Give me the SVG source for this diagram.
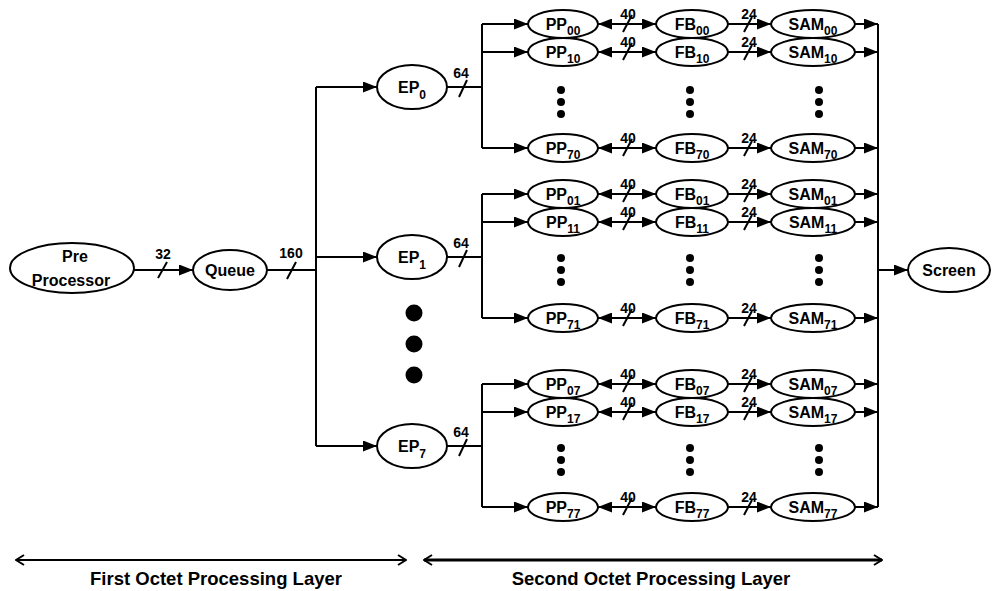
<svg xmlns="http://www.w3.org/2000/svg" width="995" height="591" viewBox="0 0 995 591">
<style>
.n{fill:#fff;stroke:#000;stroke-width:2}
.t{font-family:"Liberation Sans",Arial,sans-serif;font-weight:bold;font-size:16px;text-anchor:middle;fill:#000}
.s{font-size:12px}
.l{font-family:"Liberation Sans",Arial,sans-serif;font-weight:bold;font-size:14px;text-anchor:middle;fill:#000}
.c{fill:none;stroke:#000;stroke-width:2}
.a{marker-end:url(#ah)}
.b{marker-start:url(#ah);marker-end:url(#ah)}
.sl{stroke:#000;stroke-width:2}
.d{fill:#000}
.lay{font-family:"Liberation Sans",Arial,sans-serif;font-weight:bold;font-size:18.5px;text-anchor:middle;fill:#000}
</style>
<defs>
<marker id="ah" markerUnits="userSpaceOnUse" markerWidth="14" markerHeight="11" refX="14" refY="5.5" orient="auto-start-reverse"><path d="M0,0 L14,5.5 L0,11 z" fill="#000"/></marker>
<marker id="oh" markerUnits="userSpaceOnUse" markerWidth="10" markerHeight="12" refX="9" refY="6" orient="auto-start-reverse"><path d="M1,1 L9,6 L1,11" fill="none" stroke="#000" stroke-width="2"/></marker>
</defs>

<g id="connectors">
<path class="c a" d="M134,270 H193"/>
<line class="sl" x1="158" y1="278" x2="167" y2="262"/>
<text class="l" x="163" y="259">32</text>
<path class="c" d="M267,270 H316"/>
<line class="sl" x1="287" y1="279" x2="296" y2="262"/>
<text class="l" x="291" y="258">160</text>
<path class="c" d="M316,87 V446"/>
<path class="c a" d="M316,87 H377"/>
<path class="c a" d="M316,257 H377"/>
<path class="c a" d="M316,446 H377"/>

<path class="c" d="M447,87 H482 M482,24 V148"/>
<line class="sl" x1="459" y1="97" x2="467" y2="80"/>
<text class="l" x="461" y="78">64</text>
<path class="c" d="M447,257 H482 M482,194 V318"/>
<line class="sl" x1="459" y1="267" x2="467" y2="250"/>
<text class="l" x="461" y="248">64</text>
<path class="c" d="M447,446 H482 M482,384 V507"/>
<line class="sl" x1="459" y1="456" x2="467" y2="439"/>
<text class="l" x="461" y="437">64</text>

<g id="row-arrows">
<path class="c a" d="M482,24 H528"/><path class="c b" d="M598,24 H656"/><path class="c a" d="M728,24 H771"/><path class="c a" d="M855,24 H878"/>
<path class="c a" d="M482,52 H528"/><path class="c b" d="M598,52 H656"/><path class="c a" d="M728,52 H771"/><path class="c a" d="M855,52 H878"/>
<path class="c a" d="M482,148 H528"/><path class="c b" d="M598,148 H656"/><path class="c a" d="M728,148 H771"/><path class="c a" d="M855,148 H878"/>
<path class="c a" d="M482,194 H528"/><path class="c b" d="M598,194 H656"/><path class="c a" d="M728,194 H771"/><path class="c a" d="M855,194 H878"/>
<path class="c a" d="M482,222 H528"/><path class="c b" d="M598,222 H656"/><path class="c a" d="M728,222 H771"/><path class="c a" d="M855,222 H878"/>
<path class="c a" d="M482,318 H528"/><path class="c b" d="M598,318 H656"/><path class="c a" d="M728,318 H771"/><path class="c a" d="M855,318 H878"/>
<path class="c a" d="M482,384 H528"/><path class="c b" d="M598,384 H656"/><path class="c a" d="M728,384 H771"/><path class="c a" d="M855,384 H878"/>
<path class="c a" d="M482,412 H528"/><path class="c b" d="M598,412 H656"/><path class="c a" d="M728,412 H771"/><path class="c a" d="M855,412 H878"/>
<path class="c a" d="M482,507 H528"/><path class="c b" d="M598,507 H656"/><path class="c a" d="M728,507 H771"/><path class="c a" d="M855,507 H878"/>
</g>
<g id="width-labels">
<line class="sl" x1="623" y1="32" x2="632" y2="15"/><text class="l" x="628" y="19">40</text>
<line class="sl" x1="744" y1="32" x2="752" y2="17"/><text class="l" x="749" y="19">24</text>
<line class="sl" x1="623" y1="60" x2="632" y2="43"/><text class="l" x="628" y="47">40</text>
<line class="sl" x1="744" y1="60" x2="752" y2="45"/><text class="l" x="749" y="47">24</text>
<line class="sl" x1="623" y1="156" x2="632" y2="139"/><text class="l" x="628" y="143">40</text>
<line class="sl" x1="744" y1="156" x2="752" y2="141"/><text class="l" x="749" y="143">24</text>
<line class="sl" x1="623" y1="202" x2="632" y2="185"/><text class="l" x="628" y="189">40</text>
<line class="sl" x1="744" y1="202" x2="752" y2="187"/><text class="l" x="749" y="189">24</text>
<line class="sl" x1="623" y1="230" x2="632" y2="213"/><text class="l" x="628" y="217">40</text>
<line class="sl" x1="744" y1="230" x2="752" y2="215"/><text class="l" x="749" y="217">24</text>
<line class="sl" x1="623" y1="326" x2="632" y2="309"/><text class="l" x="628" y="313">40</text>
<line class="sl" x1="744" y1="326" x2="752" y2="311"/><text class="l" x="749" y="313">24</text>
<line class="sl" x1="623" y1="392" x2="632" y2="375"/><text class="l" x="628" y="379">40</text>
<line class="sl" x1="744" y1="392" x2="752" y2="377"/><text class="l" x="749" y="379">24</text>
<line class="sl" x1="623" y1="420" x2="632" y2="403"/><text class="l" x="628" y="407">40</text>
<line class="sl" x1="744" y1="420" x2="752" y2="405"/><text class="l" x="749" y="407">24</text>
<line class="sl" x1="623" y1="515" x2="632" y2="498"/><text class="l" x="628" y="502">40</text>
<line class="sl" x1="744" y1="515" x2="752" y2="500"/><text class="l" x="749" y="502">24</text>
</g>
<path class="c" d="M878,24 V507"/>
<path class="c a" d="M878,270 H908"/>
</g>

<g id="preprocessor"><ellipse class="n" cx="72" cy="268" rx="62" ry="25"/><text class="t" x="75" y="262">Pre</text><text class="t" x="71" y="286">Processor</text></g>
<g id="queue"><ellipse class="n" cx="230" cy="270" rx="37" ry="20"/><text class="t" x="230" y="276">Queue</text></g>
<g id="ep0"><ellipse class="n" cx="412" cy="87" rx="35" ry="22"/><text class="t" x="412" y="93">EP<tspan class="s" dy="6">0</tspan></text></g>
<g id="ep1"><ellipse class="n" cx="412" cy="257" rx="35" ry="22"/><text class="t" x="412" y="263">EP<tspan class="s" dy="6">1</tspan></text></g>
<g id="ep7"><ellipse class="n" cx="412" cy="446" rx="35" ry="22"/><text class="t" x="412" y="452">EP<tspan class="s" dy="6">7</tspan></text></g>
<g id="screen"><ellipse class="n" cx="949" cy="270" rx="41" ry="22"/><text class="t" x="949" y="276">Screen</text></g>

<g id="pp00"><ellipse class="n" cx="563" cy="24" rx="35" ry="14"/><text class="t" x="563" y="30">PP<tspan class="s" dy="5">00</tspan></text></g>
<g id="fb00"><ellipse class="n" cx="692" cy="24" rx="36" ry="14"/><text class="t" x="692" y="30">FB<tspan class="s" dy="5">00</tspan></text></g>
<g id="sam00"><ellipse class="n" cx="813" cy="24" rx="42" ry="14"/><text class="t" x="813" y="30">SAM<tspan class="s" dy="5">00</tspan></text></g>
<g id="pp10"><ellipse class="n" cx="563" cy="52" rx="35" ry="14"/><text class="t" x="563" y="58">PP<tspan class="s" dy="5">10</tspan></text></g>
<g id="fb10"><ellipse class="n" cx="692" cy="52" rx="36" ry="14"/><text class="t" x="692" y="58">FB<tspan class="s" dy="5">10</tspan></text></g>
<g id="sam10"><ellipse class="n" cx="813" cy="52" rx="42" ry="14"/><text class="t" x="813" y="58">SAM<tspan class="s" dy="5">10</tspan></text></g>
<g id="pp70"><ellipse class="n" cx="563" cy="148" rx="35" ry="14"/><text class="t" x="563" y="154">PP<tspan class="s" dy="5">70</tspan></text></g>
<g id="fb70"><ellipse class="n" cx="692" cy="148" rx="36" ry="14"/><text class="t" x="692" y="154">FB<tspan class="s" dy="5">70</tspan></text></g>
<g id="sam70"><ellipse class="n" cx="813" cy="148" rx="42" ry="14"/><text class="t" x="813" y="154">SAM<tspan class="s" dy="5">70</tspan></text></g>

<g id="pp01"><ellipse class="n" cx="563" cy="194" rx="35" ry="14"/><text class="t" x="563" y="200">PP<tspan class="s" dy="5">01</tspan></text></g>
<g id="fb01"><ellipse class="n" cx="692" cy="194" rx="36" ry="14"/><text class="t" x="692" y="200">FB<tspan class="s" dy="5">01</tspan></text></g>
<g id="sam01"><ellipse class="n" cx="813" cy="194" rx="42" ry="14"/><text class="t" x="813" y="200">SAM<tspan class="s" dy="5">01</tspan></text></g>
<g id="pp11"><ellipse class="n" cx="563" cy="222" rx="35" ry="14"/><text class="t" x="563" y="228">PP<tspan class="s" dy="5">11</tspan></text></g>
<g id="fb11"><ellipse class="n" cx="692" cy="222" rx="36" ry="14"/><text class="t" x="692" y="228">FB<tspan class="s" dy="5">11</tspan></text></g>
<g id="sam11"><ellipse class="n" cx="813" cy="222" rx="42" ry="14"/><text class="t" x="813" y="228">SAM<tspan class="s" dy="5">11</tspan></text></g>
<g id="pp71"><ellipse class="n" cx="563" cy="318" rx="35" ry="14"/><text class="t" x="563" y="324">PP<tspan class="s" dy="5">71</tspan></text></g>
<g id="fb71"><ellipse class="n" cx="692" cy="318" rx="36" ry="14"/><text class="t" x="692" y="324">FB<tspan class="s" dy="5">71</tspan></text></g>
<g id="sam71"><ellipse class="n" cx="813" cy="318" rx="42" ry="14"/><text class="t" x="813" y="324">SAM<tspan class="s" dy="5">71</tspan></text></g>

<g id="pp07"><ellipse class="n" cx="563" cy="384" rx="35" ry="14"/><text class="t" x="563" y="390">PP<tspan class="s" dy="5">07</tspan></text></g>
<g id="fb07"><ellipse class="n" cx="692" cy="384" rx="36" ry="14"/><text class="t" x="692" y="390">FB<tspan class="s" dy="5">07</tspan></text></g>
<g id="sam07"><ellipse class="n" cx="813" cy="384" rx="42" ry="14"/><text class="t" x="813" y="390">SAM<tspan class="s" dy="5">07</tspan></text></g>
<g id="pp17"><ellipse class="n" cx="563" cy="412" rx="35" ry="14"/><text class="t" x="563" y="418">PP<tspan class="s" dy="5">17</tspan></text></g>
<g id="fb17"><ellipse class="n" cx="692" cy="412" rx="36" ry="14"/><text class="t" x="692" y="418">FB<tspan class="s" dy="5">17</tspan></text></g>
<g id="sam17"><ellipse class="n" cx="813" cy="412" rx="42" ry="14"/><text class="t" x="813" y="418">SAM<tspan class="s" dy="5">17</tspan></text></g>
<g id="pp77"><ellipse class="n" cx="563" cy="507" rx="35" ry="14"/><text class="t" x="563" y="513">PP<tspan class="s" dy="5">77</tspan></text></g>
<g id="fb77"><ellipse class="n" cx="692" cy="507" rx="36" ry="14"/><text class="t" x="692" y="513">FB<tspan class="s" dy="5">77</tspan></text></g>
<g id="sam77"><ellipse class="n" cx="813" cy="507" rx="42" ry="14"/><text class="t" x="813" y="513">SAM<tspan class="s" dy="5">77</tspan></text></g>

<g id="dots">
<circle class="d" cx="561" cy="90" r="4"/><circle class="d" cx="561" cy="102" r="4"/><circle class="d" cx="561" cy="114" r="4"/>
<circle class="d" cx="690" cy="90" r="4"/><circle class="d" cx="690" cy="102" r="4"/><circle class="d" cx="690" cy="114" r="4"/>
<circle class="d" cx="819" cy="90" r="4"/><circle class="d" cx="819" cy="102" r="4"/><circle class="d" cx="819" cy="114" r="4"/>
<circle class="d" cx="561" cy="258" r="4"/><circle class="d" cx="561" cy="270" r="4"/><circle class="d" cx="561" cy="282" r="4"/>
<circle class="d" cx="690" cy="258" r="4"/><circle class="d" cx="690" cy="270" r="4"/><circle class="d" cx="690" cy="282" r="4"/>
<circle class="d" cx="819" cy="258" r="4"/><circle class="d" cx="819" cy="270" r="4"/><circle class="d" cx="819" cy="282" r="4"/>
<circle class="d" cx="561" cy="448" r="4"/><circle class="d" cx="561" cy="460" r="4"/><circle class="d" cx="561" cy="472" r="4"/>
<circle class="d" cx="690" cy="448" r="4"/><circle class="d" cx="690" cy="460" r="4"/><circle class="d" cx="690" cy="472" r="4"/>
<circle class="d" cx="819" cy="448" r="4"/><circle class="d" cx="819" cy="460" r="4"/><circle class="d" cx="819" cy="472" r="4"/>
<circle class="d" cx="414" cy="313" r="8.5"/><circle class="d" cx="414" cy="344" r="8.5"/><circle class="d" cx="414" cy="375" r="8.5"/>
</g>

<g id="layers">
<line x1="16" y1="560" x2="406" y2="560" stroke="#000" stroke-width="2" marker-start="url(#oh)" marker-end="url(#oh)"/>
<text class="lay" x="216" y="585">First Octet Processing Layer</text>
<line x1="424" y1="560" x2="882" y2="560" stroke="#000" stroke-width="3" marker-start="url(#oh)" marker-end="url(#oh)"/>
<text class="lay" x="651" y="585">Second Octet Processing Layer</text>
</g>
</svg>
